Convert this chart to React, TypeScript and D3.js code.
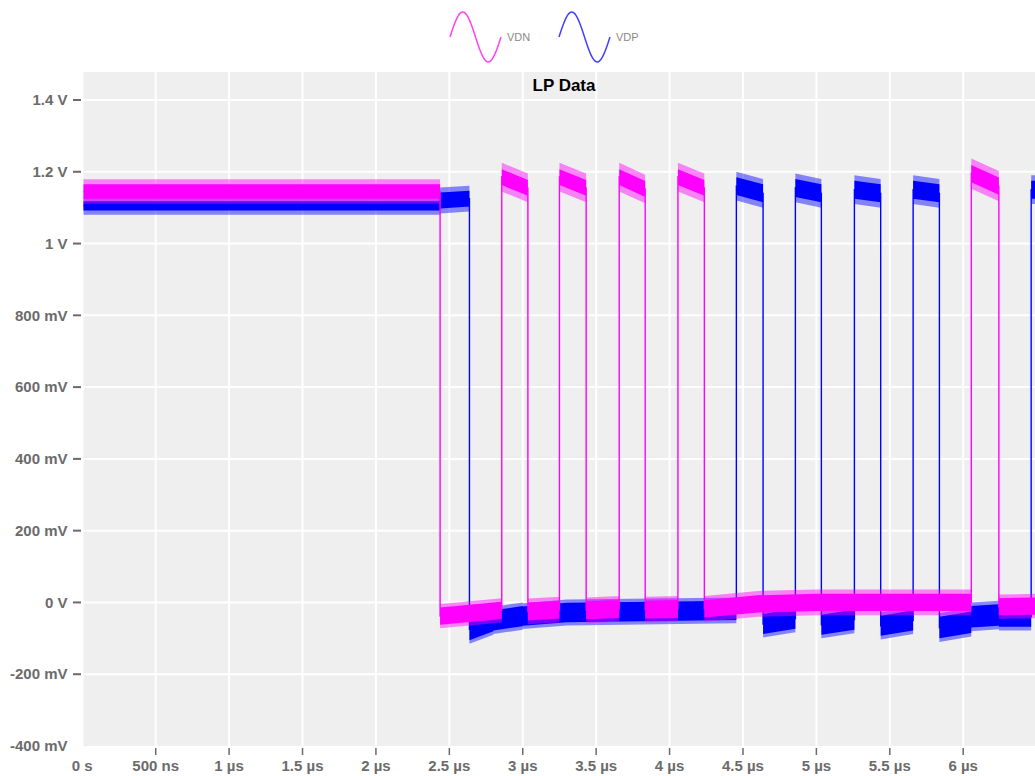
import React, { useEffect, useRef } from 'react';
import * as d3 from 'd3';

// chart size
const width = 1035;
const height = 776;

// axis ticks
const xTicks = [0, 0.5, 1, 1.5, 2, 2.5, 3, 3.5, 4, 4.5, 5, 5.5, 6];
const xTickLabels = ['0 s', '500 ns', '1 µs', '1.5 µs', '2 µs', '2.5 µs', '3 µs', '3.5 µs', '4 µs', '4.5 µs', '5 µs', '5.5 µs', '6 µs'];
const yTicks = [-0.4, -0.2, 0, 0.2, 0.4, 0.6, 0.8, 1, 1.2, 1.4];
const yTickLabels = ['-400 mV', '-200 mV', '0 V', '200 mV', '400 mV', '600 mV', '800 mV', '1 V', '1.2 V', '1.4 V'];

// VDN (magenta) - segment edges in µs, level (V) at start / end of each segment,
// half width of the dense noise band and of the peaks
const vdnEdges = [0, 2.437, 2.857, 3.035, 3.25, 3.432, 3.657, 3.834, 4.057, 4.237, 4.6, 5.0, 6.055, 6.243, 6.5];
const vdnStart = [1.145, -0.038, 1.185, -0.025, 1.185, -0.022, 1.185, -0.02, 1.185, -0.018, -0.004, 0.0, 1.195, -0.012];
const vdnEnd = [1.145, -0.022, 1.155, -0.02, 1.155, -0.018, 1.152, -0.018, 1.155, -0.004, 0.0, 0.0, 1.16, -0.01];
const vdnSpread = [0.02, 0.024, 0.022, 0.025, 0.022, 0.025, 0.022, 0.025, 0.022, 0.024, 0.024, 0.024, 0.024, 0.024];
const vdnPeak = [0.034, 0.034, 0.04, 0.036, 0.04, 0.036, 0.04, 0.036, 0.04, 0.036, 0.036, 0.036, 0.042, 0.034];

// VDP (blue)
const vdpEdges = [0, 2.437, 2.637, 2.8, 3.0, 3.3, 4.455, 4.637, 4.857, 5.034, 5.259, 5.438, 5.659, 5.838, 6.055, 6.243, 6.463, 6.5];
const vdpStart = [1.105, 1.12, -0.075, -0.05, -0.038, -0.028, 1.16, -0.06, 1.155, -0.062, 1.15, -0.065, 1.15, -0.07, -0.04, -0.04, 1.15];
const vdpEnd = [1.105, 1.125, -0.05, -0.038, -0.028, -0.022, 1.14, -0.045, 1.14, -0.048, 1.14, -0.05, 1.14, -0.055, -0.035, -0.04, 1.15];
const vdpSpread = [0.013, 0.022, 0.03, 0.028, 0.027, 0.027, 0.025, 0.028, 0.025, 0.028, 0.025, 0.028, 0.025, 0.03, 0.03, 0.028, 0.025];
const vdpPeak = [0.025, 0.036, 0.04, 0.038, 0.036, 0.036, 0.04, 0.038, 0.04, 0.038, 0.04, 0.038, 0.04, 0.04, 0.04, 0.038, 0.04];

const buildPoints = (edges, start, end, spread, peak) => {
  const pts = [];
  for (let i = 0; i < edges.length - 1; i++) {
    pts.push({ t: edges[i], v: start[i], s: spread[i], p: peak[i] });
    pts.push({ t: edges[i + 1], v: end[i], s: spread[i], p: peak[i] });
  }
  return pts;
};

const series = [
  { name: 'VDP', color: '#0000ff', points: buildPoints(vdpEdges, vdpStart, vdpEnd, vdpSpread, vdpPeak) },
  { name: 'VDN', color: '#ff00ff', points: buildPoints(vdnEdges, vdnStart, vdnEnd, vdnSpread, vdnPeak) },
];

const App = () => {
  const ref = useRef(null);

  useEffect(() => {
    const plot = { left: 83.5, right: 1036.6, top: 72, bottom: 746 };
    const x = d3.scaleLinear().domain([0, 6.5]).range([82.3, 1036.6]);
    const y = d3.scaleLinear().domain([-0.4, 1.478]).range([746, 72]);

    const svg = d3.select(ref.current);
    svg.selectAll('*').remove();

    svg.append('defs')
      .append('clipPath')
      .attr('id', 'plotClip')
      .append('rect')
      .attr('x', plot.left)
      .attr('y', plot.top)
      .attr('width', plot.right - plot.left)
      .attr('height', plot.bottom - plot.top);

    // background
    svg.append('rect')
      .attr('x', plot.left)
      .attr('y', plot.top)
      .attr('width', plot.right - plot.left)
      .attr('height', plot.bottom - plot.top)
      .attr('fill', '#efefef');

    // grid
    const grid = svg.append('g').attr('stroke', '#ffffff').attr('stroke-width', 2);
    grid.selectAll('.vgrid')
      .data(xTicks.slice(1))
      .enter()
      .append('line')
      .attr('x1', d => x(d)).attr('x2', d => x(d))
      .attr('y1', plot.top).attr('y2', plot.bottom);
    grid.selectAll('.hgrid')
      .data(yTicks.slice(1))
      .enter()
      .append('line')
      .attr('x1', plot.left).attr('x2', plot.right)
      .attr('y1', d => y(d)).attr('y2', d => y(d));

    // traces
    const traces = svg.append('g').attr('clip-path', 'url(#plotClip)');
    const peakArea = d3.area()
      .x(d => x(d.t))
      .y0(d => y(d.v - d.p))
      .y1(d => y(d.v + d.p));
    const denseArea = d3.area()
      .x(d => x(d.t))
      .y0(d => y(d.v - d.s))
      .y1(d => y(d.v + d.s));
    const mid = d3.line()
      .x(d => x(d.t))
      .y(d => y(d.v));

    series.forEach(s => {
      const g = traces.append('g');
      g.append('path')
        .attr('d', peakArea(s.points))
        .attr('fill', s.color)
        .attr('fill-opacity', 0.45);
      g.append('path')
        .attr('d', denseArea(s.points))
        .attr('fill', s.color);
      g.append('path')
        .attr('d', mid(s.points))
        .attr('fill', 'none')
        .attr('stroke', s.color)
        .attr('stroke-width', 1.4);
    });

    // title
    svg.append('text')
      .attr('x', 564)
      .attr('y', 91)
      .attr('text-anchor', 'middle')
      .attr('font-family', 'Liberation Sans, Arial, sans-serif')
      .attr('font-weight', 'bold')
      .attr('font-size', 17)
      .attr('fill', '#000')
      .text('LP Data');

    // y axis
    const yAxis = svg.append('g')
      .attr('font-family', 'Liberation Sans, Arial, sans-serif')
      .attr('font-weight', 'bold')
      .attr('font-size', 15)
      .attr('fill', '#6b6b6b');
    yAxis.selectAll('text')
      .data(yTicks)
      .enter()
      .append('text')
      .attr('x', 67.5)
      .attr('y', d => y(d))
      .attr('dy', '0.35em')
      .attr('text-anchor', 'end')
      .text((d, i) => yTickLabels[i]);
    yAxis.selectAll('line')
      .data(yTicks.slice(1))
      .enter()
      .append('line')
      .attr('x1', 73).attr('x2', 81)
      .attr('y1', d => y(d)).attr('y2', d => y(d))
      .attr('stroke', '#6b6b6b')
      .attr('stroke-width', 2);

    // x axis
    const xAxis = svg.append('g')
      .attr('font-family', 'Liberation Sans, Arial, sans-serif')
      .attr('font-weight', 'bold')
      .attr('font-size', 15)
      .attr('fill', '#6b6b6b');
    xAxis.selectAll('text')
      .data(xTicks)
      .enter()
      .append('text')
      .attr('x', d => x(d))
      .attr('y', 771)
      .attr('text-anchor', 'middle')
      .text((d, i) => xTickLabels[i]);
    xAxis.selectAll('line')
      .data(xTicks.slice(1))
      .enter()
      .append('line')
      .attr('x1', d => x(d)).attr('x2', d => x(d))
      .attr('y1', 748).attr('y2', 755)
      .attr('stroke', '#6b6b6b')
      .attr('stroke-width', 1.5);

    // legend
    const legend = svg.append('g');
    const wave = d3.line().curve(d3.curveNatural);
    const legendItems = [
      { name: 'VDN', color: '#ff00ff', x0: 450 },
      { name: 'VDP', color: '#0000ff', x0: 559 },
    ];
    legendItems.forEach(item => {
      const pts = d3.range(0, 25).map(k => [item.x0 + (k * 51) / 24, 37 - 25 * Math.sin((k / 24) * 2 * Math.PI)]);
      legend.append('path')
        .attr('d', wave(pts))
        .attr('fill', 'none')
        .attr('stroke', item.color)
        .attr('stroke-opacity', 0.75)
        .attr('stroke-width', 1.5);
      legend.append('text')
        .attr('x', item.x0 + 57)
        .attr('y', 41)
        .attr('font-family', 'Liberation Sans, Arial, sans-serif')
        .attr('font-size', 11)
        .attr('fill', '#8a8a8a')
        .text(item.name);
    });
  });

  return (
    <div style={{ position: 'absolute', left: 0, top: 0 }}>
      <svg ref={ref} width={width} height={height} style={{ display: 'block' }} />
    </div>
  );
};

export default App;
